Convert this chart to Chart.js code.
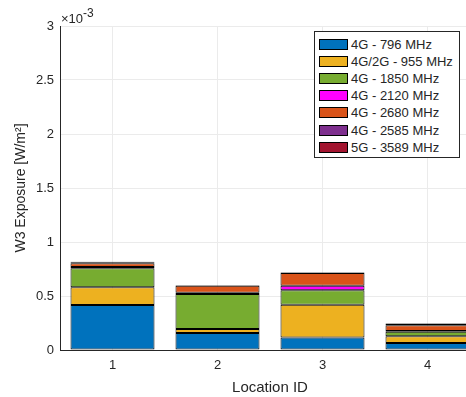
<!DOCTYPE html>
<html>
<head>
<meta charset="utf-8">
<title>W3 Exposure</title>
<script src="https://cdn.jsdelivr.net/npm/chart.js"></script>
<style>
  body { margin: 0; overflow: hidden; background: #fff; font-family: "Liberation Sans", Arial, sans-serif; }
  #wrap { position: relative; width: 480px; height: 397px; }
  #legend { position: absolute; left: 314px; top: 31px; width: 144px; height: 125px; border: 1px solid #262626; background: #fff; }
  .row { position: absolute; left: 4px; height: 17px; font-size: 13px; color: #262626; white-space: nowrap; }
  .sw { position: absolute; left: 0; top: 3px; width: 29px; height: 11px; border: 1px solid #000; box-sizing: border-box; }
  .lbl { position: absolute; left: 32px; top: 0; line-height: 17px; }
  #expo { position: absolute; left: 61px; top: 7px; font-size: 13px; color: #262626; }
  #expo sup { font-size: 12px; position: relative; top: -1px; }
</style>
</head>
<body>
<div id="wrap">
  <canvas id="myChart" width="480" height="397"></canvas>
  <div id="expo">×10<sup>-3</sup></div>
  <div id="legend"></div>
</div>
<script>
// Location IDs
var locations = ['1', '2', '3', '4'];

// exposure per band (W/m^2), one value per location
var band796 = [0.000417, 0.000157, 0.000115, 0.000065];
var band955 = [0.000163, 0.000037, 0.000305, 0.000062];
var band1850 = [0.000176, 0.000325, 0.000133, 0.000043];
var band2120 = [0.000012, 0.000012, 0.000043, 0.000005];
var band2680 = [0.000035, 0.000065, 0.000118, 0.000055];
var band2585 = [0.000005, 0.000003, 0.000003, 0.000012];
var band3589 = [0.000010, 0.000003, 0.000003, 0.000005];

var bandNames = ['4G - 796 MHz', '4G/2G - 955 MHz', '4G - 1850 MHz', '4G - 2120 MHz',
                 '4G - 2680 MHz', '4G - 2585 MHz', '5G - 3589 MHz'];
var bandColors = ['#0072BD', '#EDB120', '#77AC30', '#FF00FF', '#D95319', '#7E2F8E', '#A2142F'];
var bandData = [band796, band955, band1850, band2120, band2680, band2585, band3589];

var yTicks = [0, 0.5, 1, 1.5, 2, 2.5, 3];

var datasets = bandNames.map(function (name, i) {
  return {
    label: name,
    data: bandData[i],
    backgroundColor: bandColors[i],
    borderColor: '#000',
    borderWidth: 1,
    borderSkipped: false,
    barPercentage: 0.8,
    categoryPercentage: 1.0
  };
});

// legend drawn as html over the plot
var leg = document.getElementById('legend');
bandNames.forEach(function (name, i) {
  var row = document.createElement('div');
  row.className = 'row';
  row.style.top = (4 + i * 17.1) + 'px';
  row.innerHTML = '<div class="sw" style="background:' + bandColors[i] + '"></div><span class="lbl">' + name + '</span>';
  leg.appendChild(row);
});

var ctx = document.getElementById('myChart').getContext('2d');
var chart = new Chart(ctx, {
  type: 'bar',
  data: { labels: locations, datasets: datasets },
  options: {
    responsive: false,
    animation: false,
    layout: { padding: { top: 26, left: 13, right: 0, bottom: 0 } },
    plugins: { legend: { display: false }, tooltip: { enabled: false } },
    scales: {
      x: {
        stacked: true,
        offset: true,
        grid: { offset: false, color: '#ebebeb', drawTicks: false },
        border: { color: '#262626' },
        ticks: { color: '#262626', font: { family: 'Liberation Sans', size: 13 }, padding: 8 },
        title: { display: true, text: 'Location ID', color: '#262626', font: { family: 'Liberation Sans', size: 15 }, padding: { top: 1, bottom: 0 } },
        afterFit: function (s) { s.height = 47; }
      },
      y: {
        stacked: true,
        min: 0,
        max: 0.003,
        afterBuildTicks: function (s) { s.ticks = yTicks.map(function (v) { return { value: v / 1000 }; }); },
        grid: { color: '#ebebeb', drawTicks: false },
        border: { color: '#262626' },
        ticks: {
          color: '#262626',
          font: { family: 'Liberation Sans', size: 13 },
          padding: 6,
          callback: function (v) { return String(Math.round(v * 10000) / 10); }
        },
        title: { display: true, text: 'W3 Exposure [W/m²]', color: '#262626', font: { family: 'Liberation Sans', size: 14 }, padding: { top: 0, bottom: 4 } },
        afterFit: function (s) { s.width = 47; }
      }
    }
  }
});
</script>
</body>
</html>
